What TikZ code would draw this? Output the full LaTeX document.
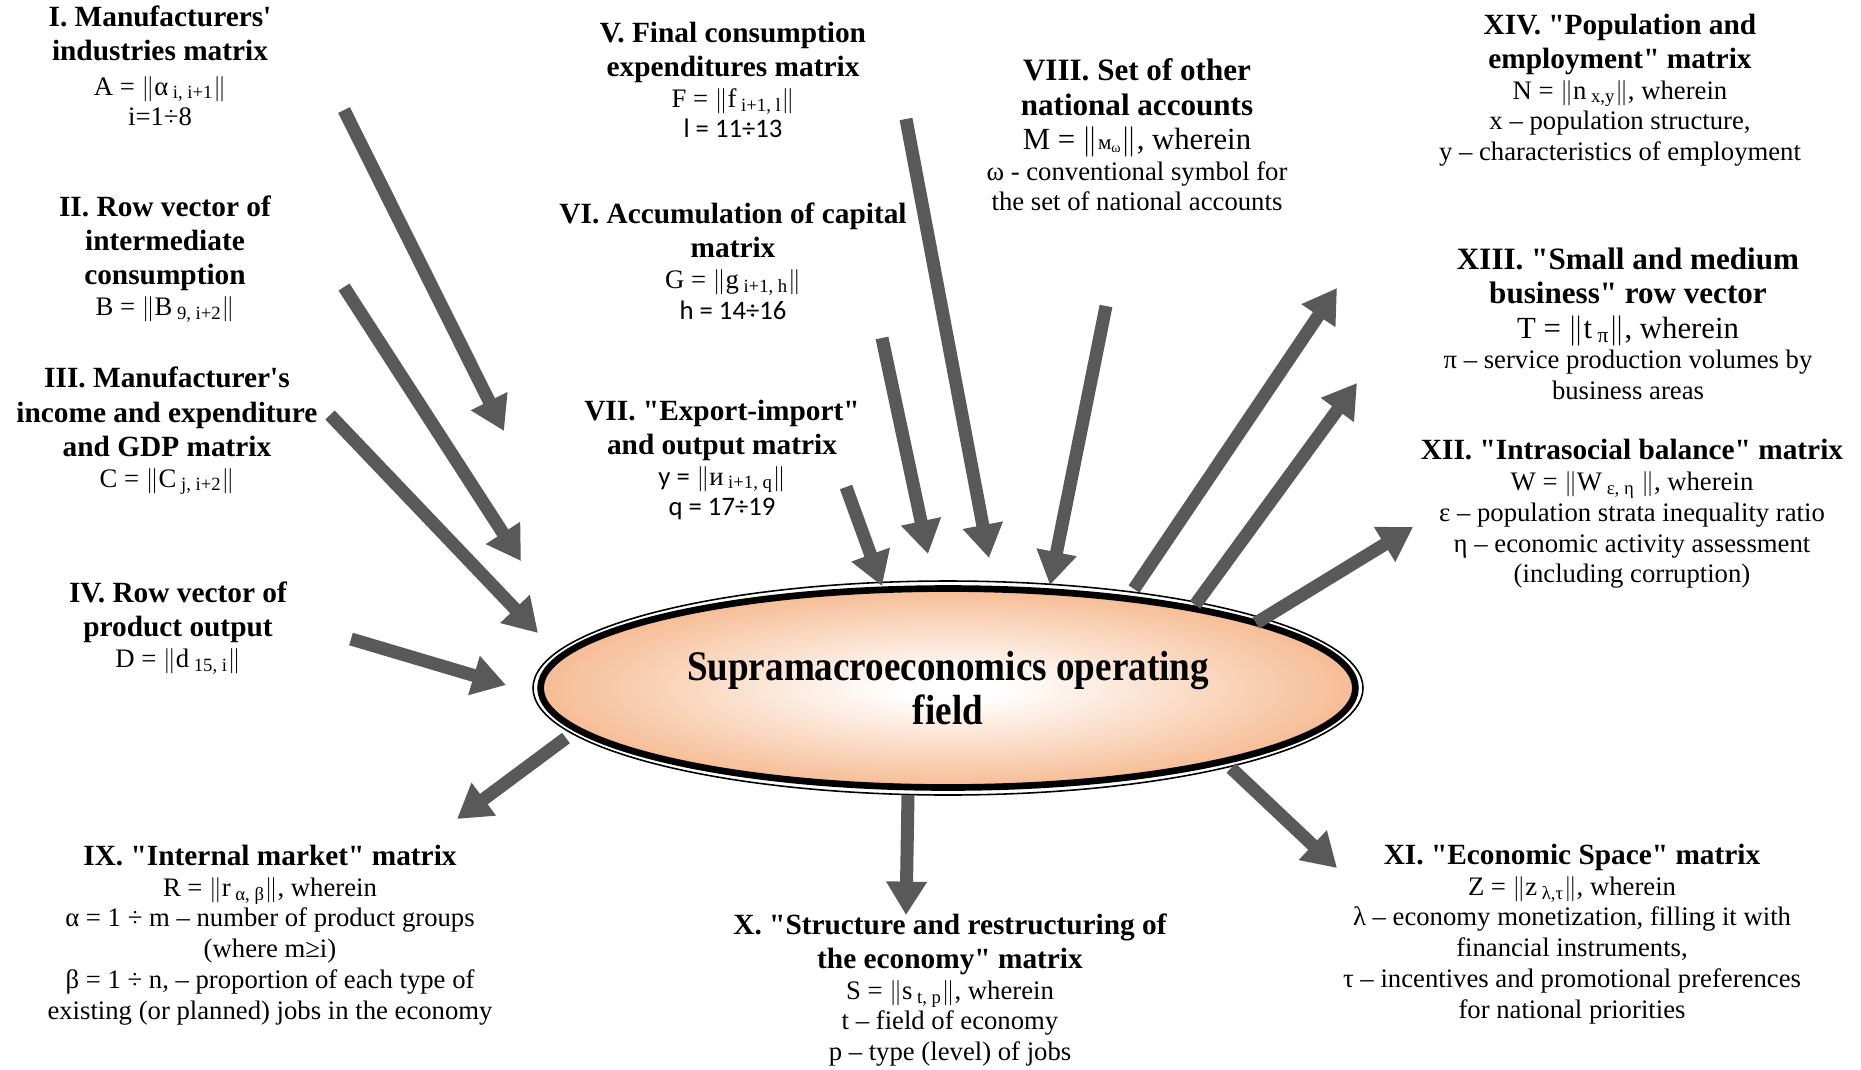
\documentclass[tikz,border=0pt]{standalone}
\usepackage{fontspec}
\setmainfont{Liberation Serif}[Ligatures=TeXOff]
\newfontfamily\calibri{Carlito}
\newfontfamily\narrowserif[FakeStretch=0.88]{Liberation Serif}
\usetikzlibrary{shapes,arrows.meta,positioning}
\definecolor{arrowgray}{HTML}{595959}
\definecolor{peach}{HTML}{F4AD7C}
\pgfdeclareradialshading{peachglow}{\pgfpoint{0bp}{0bp}}{color(0bp)=(white); color(3bp)=(white); color(30bp)=(peach); color(50bp)=(peach)}
\tikzstyle{info} = [align=center, inner sep=0pt, font=\fontsize{15.2}{17.5}\selectfont]
\tikzstyle{field} = [ellipse, draw, line width=3.8pt, shading=peachglow, minimum width=16.3cm,
minimum height=3.98cm, inner sep=0pt, align=center, font=\narrowserif\bfseries\fontsize{24}{25}\selectfont]
\tikzstyle{line} = [draw, arrowgray, line width=7.4pt, -{Triangle[length=19pt,width=22pt]}]
\newcommand{\hd}[1]{{\bfseries\fontsize{16.7}{19}\selectfont #1}}
\newcommand{\bighd}[1]{{\bfseries\fontsize{17.7}{20}\selectfont #1}}
\newcommand{\nrm}[1]{$\|$#1$\|$}

\begin{document}
\begin{tikzpicture}[x=0.02cm, y=-0.02cm]
	\useasboundingbox (0,0) rectangle (1861,1069);
	% Place nodes
	\node [field] (supra) at (948,688) {Supramacroeconomics operating\\field};
	\draw [line width=0.9pt] (supra.center) ellipse (415 and 107);
	\node [info] (matA) at (160,66) {\hd{I. Manufacturers'}\\[2pt] \hd{industries matrix}\\[2pt]
		A = \nrm{α\textsubscript{ i, i+1}}\\ i=1÷8};
	\node [info] (vecB) at (165,259) {\hd{II. Row vector of}\\[2pt] \hd{intermediate}\\[2pt] \hd{consumption}\\
		B = \nrm{B\textsubscript{ 9, i+2}}};
	\node [info] (matC) at (167,431) {\hd{III. Manufacturer's}\\[2pt] \hd{income and expenditure}\\[2pt]
		\hd{and GDP matrix}\\ C = \nrm{C\textsubscript{ j, i+2}}};
	\node [info] (vecD) at (178,628) {\hd{IV. Row vector of}\\[2pt] \hd{product output}\\ D = \nrm{d\textsubscript{ 15, i}}};
	\node [info] (matF) at (733,80) {\hd{V. Final consumption}\\[2pt] \hd{expenditures matrix}\\
		F = \nrm{f\textsubscript{ i+1, l}}\\ {\calibri l = 11÷13}};
	\node [info] (matG) at (733,261) {\hd{VI. Accumulation of capital}\\[2pt] \hd{matrix}\\
		G = \nrm{g\textsubscript{ i+1, h}}\\ {\calibri h = 14÷16}};
	\node [info] (matY) at (722,460) {\hd{VII. "Export-import"}\\[2pt] \hd{and output matrix}\\
		{\calibri y =} \nrm{и\textsubscript{ i+1, q}}\\ {\calibri q = 17÷19}};
	\node [info] (setM) at (1137,135) {\bighd{VIII. Set of other}\\[2pt] \bighd{national accounts}\\[2pt]
		{\fontsize{17.5}{20}\selectfont M = \nrm{{\fontsize{12}{12}\selectfont м\textsubscript{ω}}}, wherein}\\
		ω - conventional symbol for\\ the set of national accounts};
	\node [info] (matN) at (1620,90) {\hd{XIV. "Population and}\\[2pt] \hd{employment" matrix}\\
		N = \nrm{n\textsubscript{ x,y}}, wherein\\ x – population structure,\\ y – characteristics of employment};
	\node [info] (vecT) at (1628,324) {\bighd{XIII. "Small and medium}\\[2pt] \bighd{business" row vector}\\[2pt]
		{\fontsize{17.5}{20}\selectfont T = \nrm{t\textsubscript{ π}}, wherein}\\
		π – service production volumes by\\ business areas};
	\node [info] (matW) at (1632,514) {\hd{XII. "Intrasocial balance" matrix}\\
		W = \nrm{W\textsubscript{ ε, η} }, wherein\\ ε – population strata inequality ratio\\
		η – economic activity assessment\\ (including corruption)};
	\node [info] (matR) at (270,935) {\hd{IX. "Internal market" matrix}\\
		R = \nrm{r\textsubscript{ α, β}}, wherein\\ α = 1 ÷ m – number of product groups\\ (where m≥i)\\
		β = 1 ÷ n, – proportion of each type of\\ existing (or planned) jobs in the economy};
	\node [info] (matS) at (950,990) {\hd{X. "Structure and restructuring of}\\[2pt] \hd{the economy" matrix}\\
		S = \nrm{s\textsubscript{ t, p}}, wherein\\ t – field of economy\\ p – type (level) of jobs};
	\node [info] (matZ) at (1572,934) {\hd{XI. "Economic Space" matrix}\\
		Z = \nrm{z\textsubscript{ λ,τ}}, wherein\\ λ – economy monetization, filling it with\\ financial instruments,\\
		τ – incentives and promotional preferences\\ for national priorities};
	% Arrow ends
	\coordinate (fromA) at (344,110);  \coordinate (toA) at (504,431);
	\coordinate (fromB) at (344,287);  \coordinate (toB) at (521,561);
	\coordinate (fromC) at (330,415);  \coordinate (toC) at (538,633);
	\coordinate (fromD) at (351,639);  \coordinate (toD) at (506,685);
	\coordinate (fromF) at (906,119);  \coordinate (toF) at (989,558);
	\coordinate (fromG) at (882,338);  \coordinate (toG) at (928,554);
	\coordinate (fromY) at (846,487);  \coordinate (toY) at (882,586);
	\coordinate (fromM) at (1106,306); \coordinate (toM) at (1050,585);
	\coordinate (fromN) at (1134,589); \coordinate (toN) at (1337,288);
	\coordinate (fromT) at (1195,605); \coordinate (toT) at (1357,383);
	\coordinate (fromW) at (1256,623); \coordinate (toW) at (1413,527);
	\coordinate (fromR) at (566,738);  \coordinate (toR) at (457,819);
	\coordinate (fromS) at (908,795);  \coordinate (toS) at (906,915);
	\coordinate (fromZ) at (1231,768); \coordinate (toZ) at (1337,868);
	% Draw edges
	\path [line] (fromA) -- (toA);
	\path [line] (fromB) -- (toB);
	\path [line] (fromC) -- (toC);
	\path [line] (fromD) -- (toD);
	\path [line] (fromF) -- (toF);
	\path [line] (fromG) -- (toG);
	\path [line] (fromY) -- (toY);
	\path [line] (fromM) -- (toM);
	\path [line] (fromN) -- (toN);
	\path [line] (fromT) -- (toT);
	\path [line] (fromW) -- (toW);
	\path [line] (fromR) -- (toR);
	\path [line] (fromS) -- (toS);
	\path [line] (fromZ) -- (toZ);
\end{tikzpicture}
\end{document}
